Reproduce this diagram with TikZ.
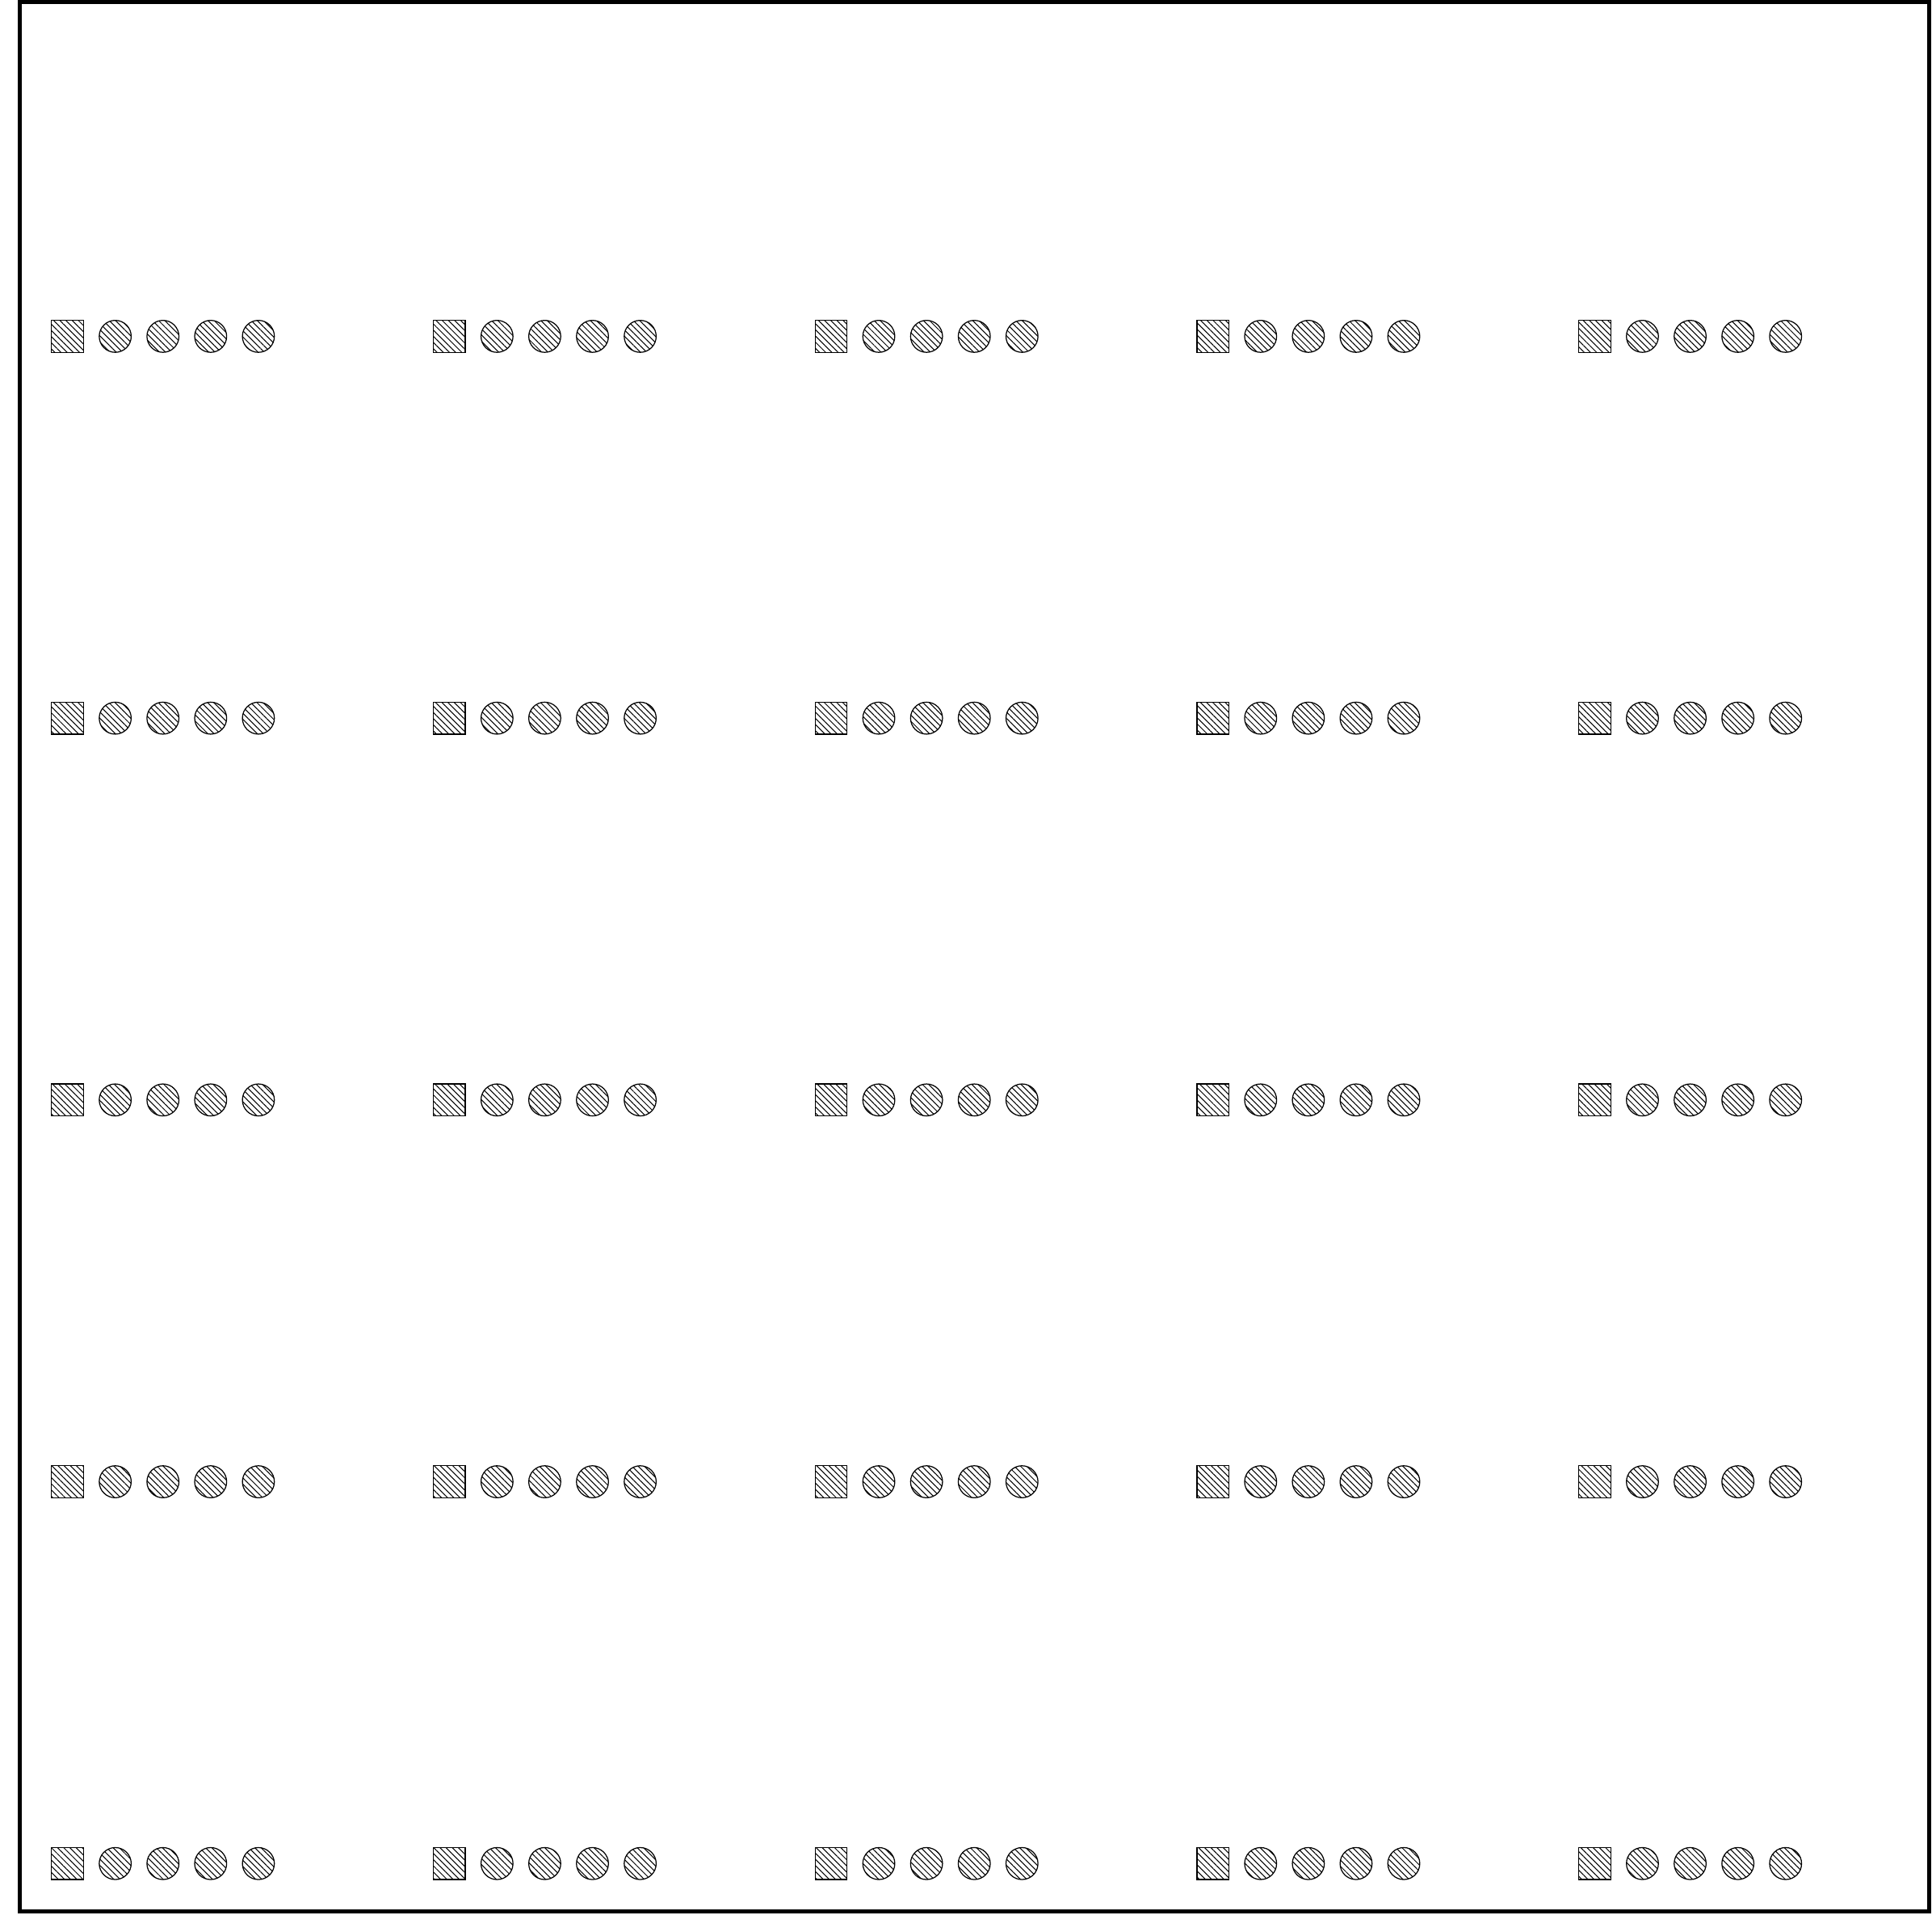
\documentclass[tikz,border=0pt]{standalone}
\usetikzlibrary{patterns.meta, positioning}
\begin{document}
\begin{tikzpicture}[on grid, node distance=0.5cm,
    box/.style={draw, line width=0.3pt, inner sep=0pt, minimum size=0.335cm,
      pattern={Lines[angle=-45, distance=1.3pt, line width=0.25pt]}},
    disc/.style={box, circle}]
      \useasboundingbox (-0.207,-0.217) rectangle (20.034,20.024);
      % Outer frame
      \draw[line width=1.2pt] (0,0) rectangle (20,20);
      % One square and four discs per cell
      \foreach \r in {0,...,4} {
        \foreach \c in {0,...,4} {
          \node[box] (sq-\r-\c) at (4*\c+0.5, 4*\r+0.5) {};
          \node[disc, right=of sq-\r-\c] (da-\r-\c) {};
          \node[disc, right=of da-\r-\c] (db-\r-\c) {};
          \node[disc, right=of db-\r-\c] (dc-\r-\c) {};
          \node[disc, right=of dc-\r-\c] (dd-\r-\c) {};
        }
      }
    \end{tikzpicture}
\end{document}
